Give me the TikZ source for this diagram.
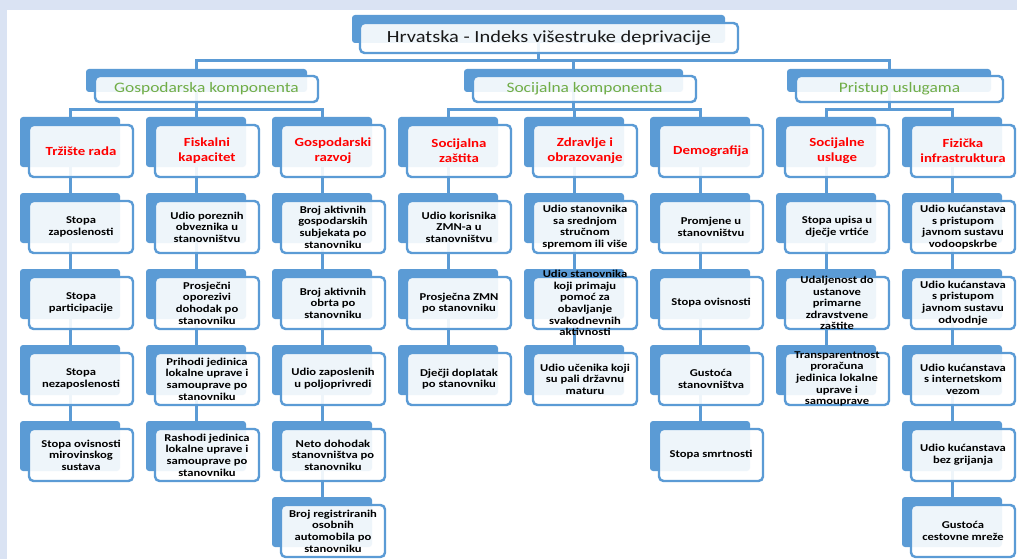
\documentclass[tikz,border=0pt]{standalone}
\usepackage{fontspec}
\setmainfont{Carlito}[FakeStretch=1.2]
\usetikzlibrary{backgrounds}
\pgfdeclarelayer{bottom}
\pgfsetlayers{bottom,background,main}
\definecolor{sablue}{HTML}{5B9BD5}
\definecolor{bgstrip}{HTML}{DAE3F3}
\definecolor{hdrgreen}{HTML}{70AD47}
\tikzset{
 backbox/.style={fill=sablue, draw=none, rounded corners=3pt, inner sep=0pt, outer sep=0pt, anchor=north west},
 frontbox/.style={fill=white, fill opacity=0.9, draw=sablue, line width=2.4pt, rounded corners=4.5pt, inner sep=0pt, outer sep=0pt, anchor=north west},
 conn/.style={draw=sablue, line width=3pt},
 leaftext/.style={font=\bfseries\fontsize{10.5}{11.6}\selectfont, align=center, text=black, inner sep=0pt},
 cattext/.style={font=\bfseries\fontsize{12.4}{15}\selectfont, align=center, text=red, inner sep=0pt},
 comptext/.style={font=\fontsize{14.5}{16}\selectfont, text=hdrgreen, inner sep=0pt},
 titletext/.style={font=\fontsize{17}{19}\selectfont, text=black!90, inner sep=0pt},
}
\newcommand\twobox[9]{%
  \node[backbox, minimum width=#4pt, minimum height=#5pt] (#1-b) at (#2,#3) {};
  \node[frontbox, minimum width=#8pt, minimum height=#9pt] (#1) at (#2+#6,#3+#7) {};
}
\newcommand\leaf[5]{%
  \pgfmathsetmacro\lx{20+126*(#2-1)}%
  \pgfmathsetmacro\ly{117+76*#3}%
  \twobox{#1}{\lx}{\ly}{100}{50}{9}{8}{104}{52}%
  \node[#4] (#1-t) at (#1.center) {#5};
}
\begin{document}
\begin{tikzpicture}[x=1pt,y=-1pt]
\useasboundingbox (0,0) rectangle (1017,559);
\begin{pgfonlayer}{bottom}
\fill[white] (0,0) rectangle (1017,559);
\fill[bgstrip] (0,0) rectangle (1017,10);
\fill[bgstrip] (0,0) rectangle (7,559);
\end{pgfonlayer}

% title
\twobox{title}{352}{15}{373}{28}{8}{8}{378}{30}
\node[titletext] (title-t) at (title.center) {Hrvatska - Indeks višestruke deprivacije};

% components
\twobox{gosp}{86}{69}{221}{23}{9}{7}{223}{26}
\node[comptext] (gosp-t) at (gosp.center) {Gospodarska komponenta};
\twobox{soc}{464}{69}{219}{23}{9}{7}{223}{26}
\node[comptext] (soc-t) at (soc.center) {Socijalna komponenta};
\twobox{prist}{787}{69}{204}{23}{9}{7}{207}{26}
\node[comptext] (prist-t) at (prist.center) {Pristup uslugama};

% column 1
\leaf{c1r0}{1}{0}{cattext}{Tržište rada}
\leaf{c1r1}{1}{1}{leaftext}{Stopa\\zaposlenosti}
\leaf{c1r2}{1}{2}{leaftext}{Stopa\\participacije}
\leaf{c1r3}{1}{3}{leaftext}{Stopa\\nezaposlenosti}
\leaf{c1r4}{1}{4}{leaftext}{Stopa ovisnosti\\mirovinskog\\sustava}
% column 2
\leaf{c2r0}{2}{0}{cattext}{Fiskalni\\kapacitet}
\leaf{c2r1}{2}{1}{leaftext}{Udio poreznih\\obveznika u\\stanovništvu}
\leaf{c2r2}{2}{2}{leaftext}{Prosječni\\oporezivi\\dohodak po\\stanovniku}
\leaf{c2r3}{2}{3}{leaftext}{Prihodi jedinica\\lokalne uprave i\\samouprave po\\stanovniku}
\leaf{c2r4}{2}{4}{leaftext}{Rashodi jedinica\\lokalne uprave i\\samouprave po\\stanovniku}
% column 3
\leaf{c3r0}{3}{0}{cattext}{Gospodarski\\razvoj}
\leaf{c3r1}{3}{1}{leaftext}{Broj aktivnih\\gospodarskih\\subjekata po\\stanovniku}
\leaf{c3r2}{3}{2}{leaftext}{Broj aktivnih\\obrta po\\stanovniku}
\leaf{c3r3}{3}{3}{leaftext}{Udio zaposlenih\\u poljoprivredi}
\leaf{c3r4}{3}{4}{leaftext}{Neto dohodak\\stanovništva po\\stanovniku}
\leaf{c3r5}{3}{5}{leaftext}{Broj registriranih\\osobnih\\automobila po\\stanovniku}
% column 4
\leaf{c4r0}{4}{0}{cattext}{Socijalna\\zaštita}
\leaf{c4r1}{4}{1}{leaftext}{Udio korisnika\\ZMN-a u\\stanovništvu}
\leaf{c4r2}{4}{2}{leaftext}{Prosječna ZMN\\po stanovniku}
\leaf{c4r3}{4}{3}{leaftext}{Dječji doplatak\\po stanovniku}
% column 5
\leaf{c5r0}{5}{0}{cattext}{Zdravlje i\\obrazovanje}
\leaf{c5r1}{5}{1}{leaftext}{Udio stanovnika\\sa srednjom\\stručnom\\spremom ili više}
\leaf{c5r2}{5}{2}{leaftext}{Udio stanovnika\\koji primaju\\pomoć za\\obavljanje\\svakodnevnih\\aktivnosti}
\leaf{c5r3}{5}{3}{leaftext}{Udio učenika koji\\su pali državnu\\maturu}
% column 6
\leaf{c6r0}{6}{0}{cattext}{Demografija}
\leaf{c6r1}{6}{1}{leaftext}{Promjene u\\stanovništvu}
\leaf{c6r2}{6}{2}{leaftext}{Stopa ovisnosti}
\leaf{c6r3}{6}{3}{leaftext}{Gustoća\\stanovništva}
\leaf{c6r4}{6}{4}{leaftext}{Stopa smrtnosti}
% column 7
\leaf{c7r0}{7}{0}{cattext}{Socijalne\\usluge}
\leaf{c7r1}{7}{1}{leaftext}{Stopa upisa u\\dječje vrtiće}
\leaf{c7r2}{7}{2}{leaftext}{Udaljenost do\\ustanove\\primarne\\zdravstvene\\zaštite}
\leaf{c7r3}{7}{3}{leaftext}{Transparentnost\\proračuna\\jedinica lokalne\\uprave i\\samouprave}
% column 8
\leaf{c8r0}{8}{0}{cattext}{Fizička\\infrastruktura}
\leaf{c8r1}{8}{1}{leaftext}{Udio kućanstava\\s pristupom\\javnom sustavu\\vodoopskrbe}
\leaf{c8r2}{8}{2}{leaftext}{Udio kućanstava\\s pristupom\\javnom sustavu\\odvodnje}
\leaf{c8r3}{8}{3}{leaftext}{Udio kućanstava\\s internetskom\\vezom}
\leaf{c8r4}{8}{4}{leaftext}{Udio kućanstava\\bez grijanja}
\leaf{c8r5}{8}{5}{leaftext}{Gustoća\\cestovne mreže}

\begin{scope}[on background layer]
  \coordinate (topbar) at (0,61);
  \coordinate (bar) at (0,110);
  \draw[conn] (title-b.south) -- (title-b.south |- topbar);
  \draw[conn] (gosp-b.north) -- (gosp-b.north |- topbar) -- (prist-b.north |- topbar) -- (prist-b.north);
  \draw[conn] (soc-b.north) -- (soc-b.north |- topbar);
  \draw[conn] (gosp-b.south) -- (gosp-b.south |- bar);
  \draw[conn] (soc-b.south) -- (soc-b.south |- bar);
  \draw[conn] (prist-b.south) -- (prist-b.south |- bar);
  \draw[conn] (c1r0-b.north) -- (c1r0-b.north |- bar) -- (c3r0-b.north |- bar) -- (c3r0-b.north);
  \draw[conn] (c2r0-b.north) -- (c2r0-b.north |- bar);
  \draw[conn] (c4r0-b.north) -- (c4r0-b.north |- bar) -- (c6r0-b.north |- bar) -- (c6r0-b.north);
  \draw[conn] (c5r0-b.north) -- (c5r0-b.north |- bar);
  \draw[conn] (c7r0-b.north) -- (c7r0-b.north |- bar) -- (c8r0-b.north |- bar) -- (c8r0-b.north);
  \draw[conn] (c1r0-b.south) -- (c1r1-b.north) (c1r1-b.south) -- (c1r2-b.north) (c1r2-b.south) -- (c1r3-b.north) (c1r3-b.south) -- (c1r4-b.north);
  \draw[conn] (c2r0-b.south) -- (c2r1-b.north) (c2r1-b.south) -- (c2r2-b.north) (c2r2-b.south) -- (c2r3-b.north) (c2r3-b.south) -- (c2r4-b.north);
  \draw[conn] (c3r0-b.south) -- (c3r1-b.north) (c3r1-b.south) -- (c3r2-b.north) (c3r2-b.south) -- (c3r3-b.north) (c3r3-b.south) -- (c3r4-b.north) (c3r4-b.south) -- (c3r5-b.north);
  \draw[conn] (c4r0-b.south) -- (c4r1-b.north) (c4r1-b.south) -- (c4r2-b.north) (c4r2-b.south) -- (c4r3-b.north);
  \draw[conn] (c5r0-b.south) -- (c5r1-b.north) (c5r1-b.south) -- (c5r2-b.north) (c5r2-b.south) -- (c5r3-b.north);
  \draw[conn] (c6r0-b.south) -- (c6r1-b.north) (c6r1-b.south) -- (c6r2-b.north) (c6r2-b.south) -- (c6r3-b.north) (c6r3-b.south) -- (c6r4-b.north);
  \draw[conn] (c7r0-b.south) -- (c7r1-b.north) (c7r1-b.south) -- (c7r2-b.north) (c7r2-b.south) -- (c7r3-b.north);
  \draw[conn] (c8r0-b.south) -- (c8r1-b.north) (c8r1-b.south) -- (c8r2-b.north) (c8r2-b.south) -- (c8r3-b.north) (c8r3-b.south) -- (c8r4-b.north) (c8r4-b.south) -- (c8r5-b.north);
\end{scope}
\end{tikzpicture}
\end{document}
